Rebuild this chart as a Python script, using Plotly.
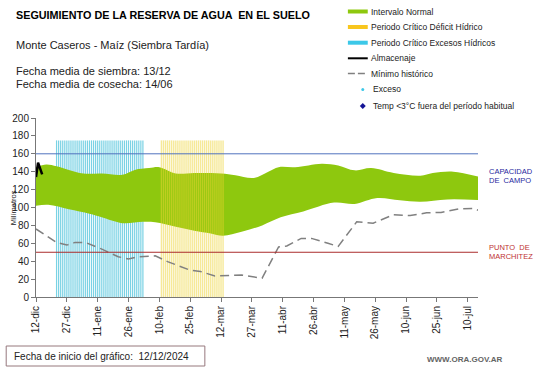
import pandas as pd
import plotly.graph_objects as go

START = pd.Timestamp("2024-12-12")
END = pd.Timestamp("2025-07-15")

# Tick labels (every 15 days from start)
tick_labels = ["12-dic", "27-dic", "11-ene", "26-ene", "10-feb", "25-feb", "12-mar",
               "27-mar", "11-abr", "26-abr", "11-may", "26-may", "10-jun", "25-jun", "10-jul"]
tick_days = [0, 15, 30, 45, 60, 75, 90, 105, 120, 135, 150, 165, 180, 195, 210]

# Intervalo normal (upper / lower envelope), day offsets from start
upper_days = [0, 5, 10, 16, 23, 32, 42, 48, 55, 60, 68, 77, 90, 97, 106, 113, 118, 126, 139,
              147, 155, 163, 174, 187, 193, 203, 215]
upper_vals = [145, 148, 146, 142, 138, 138, 136.5, 142, 144, 145, 138, 138.5, 138, 136, 133,
              140, 145, 145, 149, 147, 141.5, 144, 138.5, 135.5, 138.5, 140, 134.5]
lower_days = [0, 6, 16, 26, 32, 42, 52, 58, 68, 77, 85, 91, 100, 110, 119, 130, 145, 155, 166,
              177, 187, 200, 215]
lower_vals = [102, 103, 98, 93, 89, 82.5, 84, 83.5, 78.5, 74, 71, 68.5, 73, 80, 89, 95.5,
              105.5, 104, 110.5, 108, 106.5, 109, 108.5]

# Mínimo histórico
min_days = [0, 10, 15, 19, 24, 32, 40, 45, 50, 58, 64, 75, 80, 87, 100, 110, 118, 122, 129,
            134, 142, 147, 156, 164, 174, 182, 190, 197, 206, 213, 215]
min_vals = [76, 61, 58, 61, 61, 53.5, 45, 42.5, 45, 46, 39.5, 30, 28.5, 23.5, 24.5, 21, 56,
            57, 65.5, 65.5, 60, 56.5, 84, 82.5, 92, 91, 94, 94.5, 98.5, 99, 97]

# Almacenaje
alm_days = [0, 1, 3]
alm_vals = [134, 150, 137]

# Critical periods
excess_start, excess_end = "2024-12-22", "2025-02-02"
deficit_start, deficit_end = "2025-02-11", "2025-03-13"
crit_top = 175

capacidad_campo = 160
punto_marchitez = 50


def to_dates(days):
    return [START + pd.Timedelta(days=d) for d in days]


def stripes(start, end, top):
    xs, ys = [], []
    for d in pd.date_range(start, end, freq="D"):
        xs += [d, d, None]
        ys += [0, top, None]
    return xs, ys


fig = go.Figure()

# Excess critical period stripes
ex_x, ex_y = stripes(excess_start, excess_end, crit_top)
fig.add_trace(go.Scatter(x=ex_x, y=ex_y, mode="lines",
                         line=dict(color="rgb(122,210,228)", width=1.2),
                         showlegend=False, hoverinfo="skip"))

# Normal interval band
fig.add_trace(go.Scatter(x=to_dates(lower_days), y=lower_vals, mode="lines",
                         line=dict(color="rgba(0,0,0,0)", width=0, shape="spline"),
                         showlegend=False, hoverinfo="skip"))
fig.add_trace(go.Scatter(x=to_dates(upper_days), y=upper_vals, mode="lines",
                         line=dict(color="rgba(0,0,0,0)", width=0, shape="spline"),
                         fill="tonexty", fillcolor="rgb(142,200,14)",
                         showlegend=False, hoverinfo="skip"))

# Deficit critical period stripes (drawn over band, translucent)
de_x, de_y = stripes(deficit_start, deficit_end, crit_top)
fig.add_trace(go.Scatter(x=de_x, y=de_y, mode="lines",
                         line=dict(color="rgba(238,212,50,0.5)", width=1.4),
                         showlegend=False, hoverinfo="skip"))

# Mínimo histórico
fig.add_trace(go.Scatter(x=to_dates(min_days), y=min_vals, mode="lines",
                         line=dict(color="rgb(128,128,128)", width=1.5, dash="9px,5px"),
                         showlegend=False, hoverinfo="skip"))

# Almacenaje
fig.add_trace(go.Scatter(x=to_dates(alm_days), y=alm_vals, mode="lines",
                         line=dict(color="black", width=2.5),
                         showlegend=False, hoverinfo="skip"))

# Reference lines
fig.add_shape(type="line", xref="paper", x0=0, x1=1, yref="y", y0=capacidad_campo,
              y1=capacidad_campo, line=dict(color="rgb(80,115,190)", width=1))
fig.add_shape(type="line", xref="paper", x0=0, x1=1, yref="y", y0=punto_marchitez,
              y1=punto_marchitez, line=dict(color="rgb(170,45,45)", width=1))

# Pixel -> paper helpers (layout only)
L, R, T, B = 33, 478, 118, 297


def px(x):
    return (x - L) / (R - L)


def py(y):
    return (B - y) / (B - T)


ann = []


def text(x, y, s, size, color="#222", xanchor="left", bold=False, family="Arial"):
    if bold:
        s = "<b>" + s + "</b>"
    ann.append(dict(x=px(x), y=py(y), xref="paper", yref="paper", text=s, showarrow=False,
                    xanchor=xanchor, yanchor="middle",
                    font=dict(size=size, color=color, family=family)))


text(11, 15, "SEGUIMIENTO DE LA RESERVA DE AGUA  EN EL SUELO", 10.8, "black", bold=True)
text(11, 45, "Monte Caseros - Maíz (Siembra Tardía)", 11, "#222")
text(11, 71, "Fecha media de siembra: 13/12", 11, "#222")
text(11, 84, "Fecha media de cosecha: 14/06", 11, "#222")

# Legend
leg_x0, leg_x1, leg_tx = 347, 367, 368
leg_items = ["Intervalo Normal", "Periodo Crítico Déficit Hídrico",
             "Periodo Crítico Excesos Hídricos", "Almacenaje", "Mínimo histórico",
             "Exceso", "Temp <3°C fuera del período habitual"]
leg_y = [11.5, 27, 42.7, 58.3, 73.5, 89.5, 106]
for i, (s, y) in enumerate(zip(leg_items, leg_y)):
    tx = leg_tx if i < 5 else 370
    text(tx, y, s, 8.5, "#222")

bar_cols = ["rgb(142,200,14)", "rgb(248,198,30)", "rgb(60,200,232)"]
for c, y in zip(bar_cols, leg_y[:3]):
    fig.add_shape(type="rect", xref="paper", yref="paper", x0=px(leg_x0), x1=px(leg_x1),
                  y0=py(y + 2), y1=py(y - 2), fillcolor=c, line=dict(width=0))
fig.add_shape(type="line", xref="paper", yref="paper", x0=px(leg_x0), x1=px(leg_x1),
              y0=py(leg_y[3]), y1=py(leg_y[3]), line=dict(color="black", width=2))
fig.add_shape(type="line", xref="paper", yref="paper", x0=px(leg_x0), x1=px(leg_x1),
              y0=py(leg_y[4]), y1=py(leg_y[4]),
              line=dict(color="rgb(128,128,128)", width=1.5, dash="7px,3px"))
fig.add_shape(type="circle", xref="paper", yref="paper", x0=px(360.5), x1=px(363.5),
              y0=py(leg_y[5] + 1.5), y1=py(leg_y[5] - 1.5),
              fillcolor="rgb(60,200,232)", line=dict(width=0))
dy = leg_y[6]
fig.add_shape(type="path", xref="paper", yref="paper",
              path=f"M {px(362)} {py(dy-3)} L {px(365)} {py(dy)} L {px(362)} {py(dy+3)} L {px(359)} {py(dy)} Z",
              fillcolor="rgb(20,20,150)", line=dict(width=0))

# Right labels
text(487, 171, "CAPACIDAD", 7.5, "rgb(40,40,160)")
text(487, 180, "DE  CAMPO", 7.5, "rgb(40,40,160)")
text(487, 247, "PUNTO  DE", 7.5, "rgb(190,50,50)")
text(487, 256, "MARCHITEZ", 7.5, "rgb(190,50,50)")

# Y title
ann.append(dict(x=px(10), y=py(208), xref="paper", yref="paper", text="Milímetros",
                showarrow=False, textangle=-90, xanchor="center", yanchor="middle",
                font=dict(size=7.5, color="#222", family="Arial")))

# Bottom box
fig.add_shape(type="rect", xref="paper", yref="paper", x0=px(3), x1=px(203), y0=py(366),
              y1=py(346), line=dict(color="rgb(150,120,125)", width=1), fillcolor="white")
text(9, 356, "Fecha de inicio del gráfico:  12/12/2024", 10, "#222")
text(425, 359, "WWW.ORA.GOV.AR", 8, "rgb(100,100,100)", bold=True)

fig.update_layout(
    width=541, height=368,
    margin=dict(l=L, r=541 - R, t=T, b=368 - B, pad=0),
    paper_bgcolor="white", plot_bgcolor="white",
    showlegend=False,
    annotations=ann,
    font=dict(family="Arial", color="#222"),
    xaxis=dict(range=[START, END], tickvals=to_dates(tick_days), ticktext=tick_labels,
               tickangle=-90, tickfont=dict(size=10, color="#222"),
               showgrid=False, zeroline=False, showline=True, linecolor="#777",
               ticks="outside", ticklen=4, tickcolor="#777"),
    yaxis=dict(range=[0, 200], tickvals=list(range(0, 201, 20)),
               tickfont=dict(size=10, color="#222"),
               showgrid=False, zeroline=False, showline=True, linecolor="#777",
               ticks="outside", ticklen=4, tickcolor="#777"),
)

fig.write_html("out.html", post_script="document.body.style.margin='0';",
               config={"displayModeBar": False})
